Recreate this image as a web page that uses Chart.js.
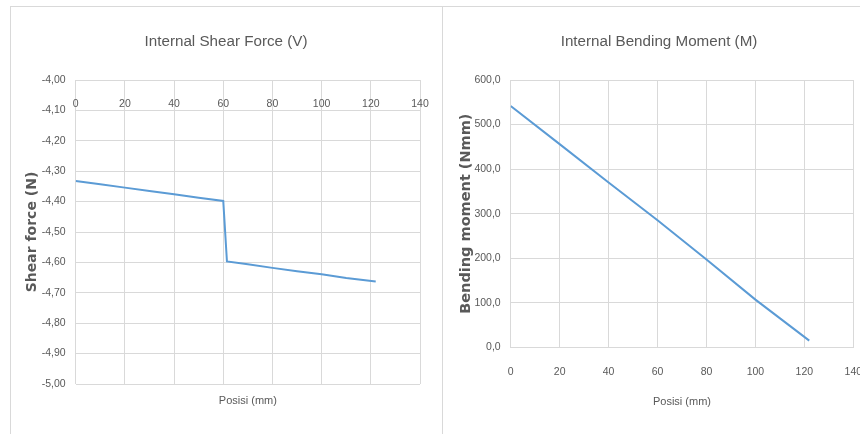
<!DOCTYPE html>
<html><head><meta charset="utf-8">
<script src="https://cdn.jsdelivr.net/npm/chart.js@4.4.1/dist/chart.umd.min.js"></script>
<style>
html,body{margin:0;padding:0;background:#fff;width:860px;height:434px;overflow:hidden;}
#f1{position:absolute;left:10px;top:6px;width:432px;height:440px;border-left:1px solid #d9d9d9;border-top:1px solid #d9d9d9;}
#f2{position:absolute;left:442px;top:6px;width:440px;height:440px;border-top:1px solid #d9d9d9;border-left:1px solid #d9d9d9;}
#c1{position:absolute;left:4px;top:7px;}
#c2{position:absolute;left:443px;top:7px;}
</style>
</head><body>
<div id="f1"></div><div id="f2"></div>
<canvas id="c1" width="444" height="427"></canvas>
<canvas id="c2" width="432" height="427"></canvas>
<script>
// ---- data ----
const shearTitle = 'Internal Shear Force (V)';
const momentTitle = 'Internal Bending Moment (M)';
const xTitle = 'Posisi (mm)';
const shearAxisTitle = 'Shear force (N)';
const momentAxisTitle = 'Bending moment (Nmm)';
const shearX = [0, 10, 20, 30, 40, 50, 60, 61.5, 70, 80, 90, 100, 110, 122];
const shearV = [-4.332, -4.343, -4.354, -4.365, -4.376, -4.387, -4.398, -4.597, -4.606, -4.618, -4.629, -4.639, -4.651, -4.663];
const momentX = [0, 20, 40, 60, 80, 100, 122];
const momentM = [541.6, 456, 370, 285, 197, 107, 15];
const xTicks = [0, 20, 40, 60, 80, 100, 120, 140];
const shearTicks = [-4.0, -4.1, -4.2, -4.3, -4.4, -4.5, -4.6, -4.7, -4.8, -4.9, -5.0];
const momentTicks = [0, 100, 200, 300, 400, 500, 600];

const TXT = '#595959';
const GRID = '#d9d9d9';
const BLUE = '#5b9bd5';
const FN = "'Liberation Sans', Arial, sans-serif";
const FB = "'DejaVu Sans', sans-serif";
const TICK = { family: FN, size: 10.5 };
const comma = (v, d) => v.toFixed(d).replace('.', ',');
const pts = (xs, ys) => xs.map((x, i) => ({x: x, y: ys[i]}));

const lineDs = (data) => ({
  data: data, borderColor: BLUE, backgroundColor: BLUE, borderWidth: 2,
  pointRadius: 0, tension: 0, fill: false
});
const titleOpts = (text) => ({
  display: true, text: text, color: TXT,
  font: { family: FN, size: 15.2, weight: 'normal' }, padding: { top: 25.9, bottom: 28.86 }
});

new Chart(document.getElementById('c1'), {
  type: 'line',
  data: { datasets: [lineDs(pts(shearX, shearV))] },
  options: {
    responsive: false, animation: false,
    layout: { padding: { left: 28, right: 28, top: 0, bottom: 0 } },
    plugins: {
      legend: { display: false }, tooltip: { enabled: false },
      title: titleOpts(shearTitle)
    },
    scales: {
      x: { type: 'linear', position: 'top', min: 0, max: 140,
        afterBuildTicks: s => { s.ticks = xTicks.map(v => ({value: v})); },
        ticks: { mirror: true, padding: 17.7, color: TXT, font: TICK },
        grid: { color: GRID, drawTicks: false, lineWidth: 1 },
        border: { color: GRID },
        afterFit: s => { s.height = 0; } },
      xb: { type: 'linear', position: 'bottom', min: 0, max: 140,
        ticks: { display: false }, grid: { display: false, drawTicks: false }, border: { display: false },
        title: { display: true, text: xTitle, color: TXT, font: { family: FN, size: 11 }, padding: { top: 0, bottom: 26.4 } },
        afterFit: s => { s.height = 50; } },
      y: { type: 'linear', min: -5, max: -4,
        afterBuildTicks: s => { s.ticks = shearTicks.map(v => ({value: v})); },
        ticks: { padding: 10, color: TXT, font: TICK, callback: v => comma(v, 2) },
        grid: { color: GRID, drawTicks: false },
        border: { display: false },
        title: { display: true, text: shearAxisTitle, color: TXT, font: { family: FB, size: 14, weight: 'bold' }, padding: { top: -7.7, bottom: 0 } },
        afterFit: s => { s.width = 43.7; } }
    }
  }
});

new Chart(document.getElementById('c2'), {
  type: 'line',
  data: { datasets: [lineDs(pts(momentX, momentM))] },
  options: {
    responsive: false, animation: false,
    layout: { padding: { left: 21.7, right: 21.7, top: 0, bottom: 0 } },
    plugins: {
      legend: { display: false }, tooltip: { enabled: false },
      title: titleOpts(momentTitle)
    },
    scales: {
      x: { type: 'linear', position: 'bottom', min: 0, max: 140,
        afterBuildTicks: s => { s.ticks = xTicks.map(v => ({value: v})); },
        ticks: { padding: 0, color: TXT, font: TICK },
        grid: { color: GRID, drawTicks: true, tickLength: 18.4, tickColor: 'rgba(0,0,0,0)' },
        border: { color: GRID },
        title: { display: true, text: xTitle, color: TXT, font: { family: FN, size: 11 }, padding: { top: 0, bottom: 25.4 } },
        afterFit: s => { s.height = 86.7; } },
      y: { type: 'linear', min: 0, max: 600,
        afterBuildTicks: s => { s.ticks = momentTicks.map(v => ({value: v})); },
        ticks: { padding: 10, color: TXT, font: TICK, callback: v => comma(v, 1) },
        grid: { color: GRID, drawTicks: false },
        border: { display: false },
        title: { display: true, text: momentAxisTitle, color: TXT, font: { family: FB, size: 14.5, weight: 'bold' }, padding: { top: -7.4, bottom: 0 } },
        afterFit: s => { s.width = 46; } }
    }
  }
});
</script>
</body></html>
